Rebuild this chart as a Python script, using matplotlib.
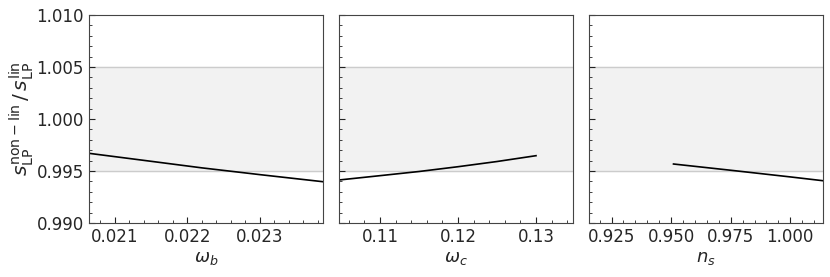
import matplotlib
matplotlib.use("Agg")
import matplotlib.pyplot as plt
from matplotlib.ticker import AutoMinorLocator, MultipleLocator

# Datos (cociente no lineal / lineal)
omega_b = [0.02064, 0.0215, 0.0222, 0.0230, 0.02387]
ratio_b = [0.99670, 0.99593, 0.99530, 0.99465, 0.99397]

omega_c = [0.1047, 0.110, 0.115, 0.120, 0.125, 0.130]
ratio_c = [0.99413, 0.99455, 0.99495, 0.99541, 0.99591, 0.99647]

n_s = [0.951, 0.975, 1.000, 1.0135]
ratio_n = [0.99567, 0.99507, 0.99443, 0.99407]

xlims = [(0.02064, 0.02387), (0.1047, 0.1347), (0.91535, 1.01355)]
xlabels = [r"$\omega_b$", r"$\omega_c$", r"$n_s$"]
xmajor = [0.001, 0.01, 0.025]

fig, axes = plt.subplots(1, 3, figsize=(8.3, 2.77), dpi=100, sharey=True)
fig.subplots_adjust(left=0.107, right=0.991, bottom=0.195, top=0.946, wspace=0.068)

datos = [(omega_b, ratio_b), (omega_c, ratio_c), (n_s, ratio_n)]
for ax, (x, y), xl, lab, step in zip(axes, datos, xlims, xlabels, xmajor):
    ax.axhspan(0.995, 1.005, color="#f2f2f2", zorder=0)
    ax.axhline(0.995, color="#cccccc", lw=1, zorder=1)
    ax.axhline(1.005, color="#cccccc", lw=1, zorder=1)
    ax.plot(x, y, color="black", lw=1.2, zorder=2)
    ax.set_xlim(*xl)
    ax.set_ylim(0.990, 1.010)
    ax.xaxis.set_major_locator(MultipleLocator(step))
    ax.yaxis.set_major_locator(MultipleLocator(0.005))
    ax.xaxis.set_minor_locator(AutoMinorLocator())
    ax.yaxis.set_minor_locator(AutoMinorLocator())
    ax.tick_params(which="both", direction="in", top=False, right=False,
                   labelsize=12, color="#222222", labelcolor="#262626")
    ax.tick_params(which="major", length=4)
    ax.tick_params(which="minor", length=2)
    for s in ax.spines.values():
        s.set_color("#444444")
    ax.set_xlabel(lab, fontsize=13, labelpad=2, color="#262626")

axes[0].set_ylabel(r"$s_{\rm LP}^{\rm non-lin}\,/\,s_{\rm LP}^{\rm lin}$", fontsize=14.5,
                   labelpad=0, color="#262626")

plt.savefig("out.png", dpi=100)
